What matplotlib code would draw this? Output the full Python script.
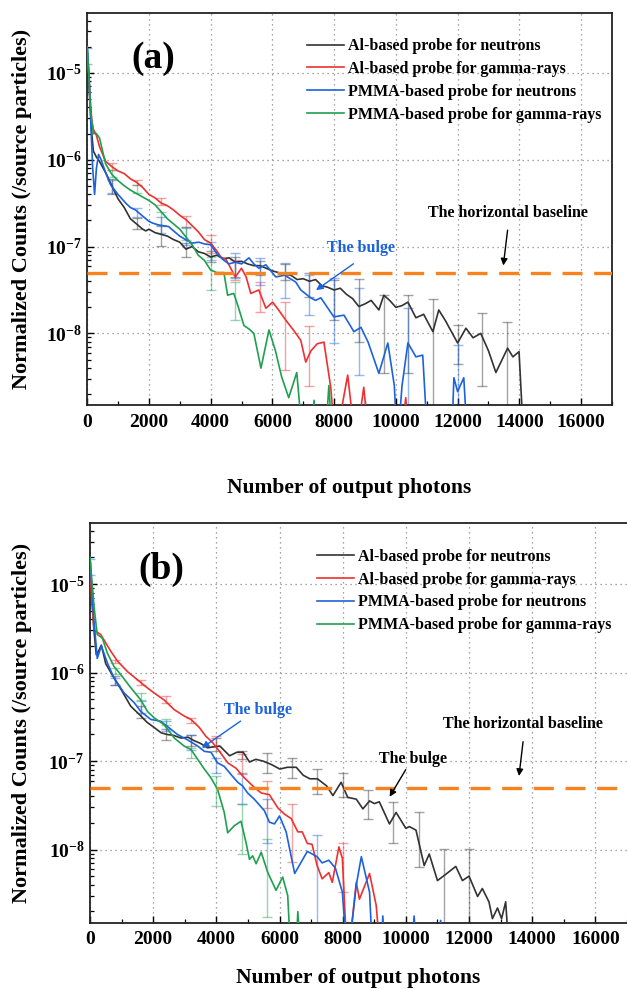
import numpy as np
import matplotlib
matplotlib.use('Agg')
import matplotlib.pyplot as plt
from matplotlib.ticker import MultipleLocator, LogLocator, NullFormatter, FixedLocator

plt.rcParams['font.family'] = ['Liberation Serif', 'DejaVu Serif']
plt.rcParams['font.weight'] = 'bold'
plt.rcParams['mathtext.fontset'] = 'custom'
plt.rcParams['mathtext.rm'] = 'Liberation Serif:bold'
plt.rcParams['mathtext.bf'] = 'Liberation Serif:bold'
plt.rcParams['mathtext.default'] = 'bf'

labels = ['Al-based probe for neutrons', 'Al-based probe for gamma-rays',
          'PMMA-based probe for neutrons', 'PMMA-based probe for gamma-rays']
colors = ['#333333', '#ee3030', '#1c62dc', '#1fa050']

# ---------------- panel (a): curves, log10 of counts ----------------
a_al_n_x = [0, 50, 100, 150, 200, 300, 400, 600, 800, 1000, 1200, 1400, 1600, 1800, 1900, 2000, 2200, 2400,
            2600, 2800, 3000, 3200, 3400, 3600, 3800, 4000, 4200, 4400, 4600, 4800, 5000, 5200, 5400, 5600,
            5800, 6000, 6200, 6400, 6600, 6800, 7000, 7200, 7400, 7600, 7800, 8000, 8200, 8400, 8600, 8800,
            9000, 9200, 9450, 9610, 9800, 10000, 10200, 10390, 10650, 10900, 11200, 11390, 11600, 12000,
            12270, 12500, 12750, 13000, 13240, 13620, 13790, 13990, 14150]
a_al_n_log = [-4.7, -5.1, -5.4, -5.7, -5.9, -5.97, -6.02, -6.15, -6.3, -6.45, -6.55, -6.68, -6.74, -6.8, -6.82,
              -6.8, -6.84, -6.86, -6.88, -6.92, -6.95, -7.03, -7.0, -7.06, -7.08, -7.12, -7.1, -7.14, -7.13,
              -7.18, -7.17, -7.2, -7.22, -7.22, -7.25, -7.28, -7.3, -7.32, -7.33, -7.38, -7.37, -7.4, -7.38,
              -7.45, -7.47, -7.5, -7.48, -7.55, -7.6, -7.69, -7.66, -7.62, -7.73, -7.56, -7.62, -7.7, -7.68,
              -7.64, -7.82, -7.78, -7.98, -7.73, -7.85, -8.11, -7.94, -8.05, -8.0, -8.2, -8.45, -8.17, -8.27,
              -8.21, -9.3]

a_al_g_x = [0, 50, 100, 150, 200, 300, 400, 600, 800, 1000, 1200, 1400, 1600, 1800, 2000, 2200, 2400, 2600,
            2800, 3000, 3200, 3400, 3600, 3800, 4000, 4200, 4330, 4500, 4650, 4800, 5000, 5150, 5300, 5560,
            5790, 6010, 6200, 6440, 6700, 6920, 7080, 7250, 7450, 7670, 7890, 8050, 8250, 8440, 8700, 8960,
            9150, 10150, 10320, 10450]
a_al_g_log = [-4.85, -5.0, -5.3, -5.55, -5.65, -5.72, -5.85, -6.02, -6.08, -6.13, -6.16, -6.22, -6.26, -6.32,
              -6.4, -6.44, -6.5, -6.53, -6.58, -6.64, -6.69, -6.76, -6.83, -6.92, -6.96, -7.05, -7.12, -7.15,
              -7.25, -7.35, -7.25, -7.35, -7.54, -7.5, -7.71, -7.64, -7.73, -7.85, -7.97, -8.08, -8.33, -8.2,
              -8.12, -8.1, -8.62, -9.3, -8.85, -8.48, -9.3, -8.62, -9.3, -9.3, -8.74, -9.3]

a_pm_n_x = [0, 60, 120, 180, 240, 300, 370, 450, 600, 760, 1000, 1250, 1400, 1570, 1800, 2000, 2120, 2300,
            2450, 2640, 2800, 3000, 3190, 3400, 3620, 3800, 4000, 4200, 4400, 4590, 4800, 5000, 5240, 5400,
            5560, 5790, 6110, 6400, 6760, 6920, 7240, 7400, 7570, 7990, 8320, 8640, 8870, 9100, 9450, 9740,
            9950, 10050, 10200, 10390, 10650, 10870, 11040, 11800, 11880, 12000, 12200, 12330]
a_pm_n_log = [-4.7, -5.0, -5.6, -6.1, -6.4, -6.1, -5.94, -6.0, -6.15, -6.29, -6.4, -6.5, -6.55, -6.58, -6.65,
              -6.71, -6.73, -6.75, -6.76, -6.77, -6.82, -6.88, -6.92, -6.96, -6.95, -6.97, -6.98, -7.08,
              -7.15, -7.2, -7.18, -7.2, -7.13, -7.2, -7.25, -7.21, -7.35, -7.33, -7.41, -7.5, -7.59, -7.62,
              -7.59, -7.81, -7.79, -7.98, -7.93, -8.1, -8.46, -8.11, -8.6, -9.3, -8.6, -8.11, -8.27, -8.25,
              -9.3, -9.3, -8.51, -8.67, -8.51, -9.3]

a_pm_g_x = [0, 50, 100, 200, 300, 400, 600, 800, 1000, 1200, 1400, 1600, 1800, 2000, 2200, 2400, 2600, 2800,
            3000, 3200, 3400, 3600, 3800, 4000, 4200, 4430, 4550, 4750, 4900, 5080, 5250, 5400, 5630, 5890,
            6100, 6300, 6530, 6790, 7000, 7250, 7350, 7450, 7700, 7830, 7950]
a_pm_g_log = [-4.7, -5.0, -5.4, -5.7, -5.7, -5.75, -6.05, -6.17, -6.24, -6.3, -6.35, -6.39, -6.43, -6.47,
              -6.52, -6.6, -6.68, -6.74, -6.8, -6.89, -6.98, -7.1, -7.16, -7.27, -7.3, -7.3, -7.56, -7.54,
              -7.7, -7.91, -7.95, -8.0, -8.4, -7.96, -8.2, -8.5, -8.74, -8.45, -9.3, -9.3, -8.77, -9.3, -9.3,
              -8.6, -9.3]

# panel (a): error bars (x, low log10, high log10)
a_al_n_ex = [800, 1600, 2400, 3200, 4000, 4800, 5600, 6400, 7200, 8000, 8800, 9600, 10400, 11200, 12000, 12800, 13600]
a_al_n_lo = [-6.4, -6.8, -6.99, -7.12, -7.18, -7.35, -7.33, -7.38, -7.58, -7.85, -8.1, -8.46, -8.45, -9.5, -8.35, -8.6, -9.5]
a_al_n_hi = [-6.22, -6.67, -6.76, -6.96, -7.05, -7.12, -7.17, -7.2, -7.3, -7.38, -7.37, -7.56, -7.56, -7.6, -7.9, -7.77, -7.87]

a_al_g_ex = [800, 1600, 2400, 3200, 4000, 4800, 5600, 6400, 7200]
a_al_g_lo = [-6.12, -6.29, -6.52, -6.77, -7.07, -7.39, -7.75, -8.42, -8.6]
a_al_g_hi = [-6.04, -6.23, -6.44, -6.65, -6.87, -7.16, -7.41, -7.64, -7.92]

a_pm_n_ex = [0, 800, 1600, 2400, 3200, 4000, 4800, 5600, 6400, 7200, 8000, 8800, 10400, 12000]
a_pm_n_lo = [-4.9, -6.38, -6.66, -6.84, -6.98, -7.15, -7.36, -7.44, -7.59, -7.79, -8.11, -8.48, -9.5, -9.5]
a_pm_n_hi = [-4.72, -6.23, -6.56, -6.66, -6.77, -6.95, -7.07, -7.13, -7.19, -7.33, -7.36, -7.48, -7.71, -8.13]

a_pm_g_ex = [800, 1600, 2400, 3200, 4000, 4800]
a_pm_g_lo = [-6.2, -6.38, -6.75, -6.92, -7.5, -7.85]
a_pm_g_hi = [-6.12, -6.29, -6.6, -6.79, -7.12, -7.41]

# ---------------- panel (b): curves, log10 of counts ----------------
b_al_n_x = [0, 60, 120, 200, 280, 360, 500, 760, 1000, 1290, 1610, 1800, 2030, 2250, 2450, 2650, 2880, 3100,
            3300, 3500, 3720, 3900, 4110, 4420, 4650, 4850, 5050, 5250, 5480, 5750, 6010, 6250, 6530, 6750,
            6960, 7200, 7490, 7690, 7950, 8160, 8430, 8640, 8850, 9000, 9160, 9480, 9690, 10000, 10110, 10320,
            10580, 10740, 11000, 11260, 11580, 11790, 12000, 12270, 12420, 12630, 12740, 12900, 13030, 13160,
            13290]
b_al_n_log = [-4.7, -5.1, -5.5, -5.8, -5.75, -5.69, -5.9, -6.06, -6.2, -6.38, -6.49, -6.56, -6.62, -6.68, -6.7,
              -6.71, -6.74, -6.73, -6.77, -6.8, -6.85, -6.84, -6.83, -6.94, -6.9, -6.9, -7.01, -6.98, -7.0,
              -7.04, -7.09, -7.07, -7.07, -7.16, -7.2, -7.2, -7.28, -7.39, -7.24, -7.41, -7.43, -7.54, -7.45,
              -7.48, -7.46, -7.71, -7.58, -7.76, -7.74, -7.78, -8.18, -8.05, -8.35, -8.28, -8.19, -8.35, -8.3,
              -8.53, -8.44, -8.59, -8.78, -8.66, -8.78, -8.59, -9.3]

b_al_g_x = [0, 60, 130, 340, 660, 870, 1190, 1500, 1770, 2030, 2350, 2670, 2980, 3200, 3460, 3670, 3880, 4100,
            4360, 4620, 4890, 5210, 5420, 5680, 5950, 6160, 6370, 6580, 6720, 6880, 7030, 7190, 7350, 7560,
            7670, 7880, 7990, 8150, 8430, 8530, 8850, 9060, 9220]
b_al_g_log = [-4.8, -5.2, -5.52, -5.57, -5.76, -5.87, -5.99, -6.08, -6.16, -6.23, -6.31, -6.42, -6.49, -6.53,
              -6.62, -6.72, -6.79, -6.89, -7.02, -7.08, -7.19, -7.3, -7.36, -7.38, -7.53, -7.6, -7.65, -7.8,
              -7.8, -7.93, -7.94, -8.18, -8.33, -8.26, -8.37, -7.97, -8.1, -9.3, -8.37, -8.56, -8.27, -8.63,
              -9.3]

b_pm_n_x = [0, 100, 230, 360, 550, 760, 1080, 1400, 1610, 1930, 2240, 2560, 2770, 3090, 3410, 3620, 3830, 4040,
            4250, 4460, 4680, 4830, 4990, 5200, 5520, 5680, 5840, 6000, 6210, 6480, 6880, 7190, 7350, 7560,
            7770, 7990, 8150, 8430, 8590, 8850, 8960, 9200, 9270, 9350, 10150, 10260, 10370, 11000, 11100,
            11200]
b_pm_n_log = [-4.7, -5.3, -5.84, -5.7, -5.89, -6.06, -6.23, -6.34, -6.44, -6.53, -6.55, -6.64, -6.7, -6.76,
              -6.83, -6.89, -6.9, -7.02, -7.06, -7.15, -7.24, -7.28, -7.36, -7.43, -7.56, -7.69, -7.71, -7.62,
              -7.8, -8.27, -8.02, -8.08, -8.15, -8.12, -8.21, -8.48, -9.3, -8.4, -8.08, -8.48, -9.3, -9.3,
              -8.75, -9.3, -9.3, -8.75, -9.3, -9.3, -8.8, -9.3]

b_pm_g_x = [0, 130, 230, 390, 550, 760, 970, 1290, 1610, 1820, 2030, 2350, 2670, 2980, 3200, 3410, 3620, 3830,
            4040, 4250, 4360, 4570, 4780, 4940, 5050, 5150, 5260, 5420, 5630, 5890, 6100, 6260, 6370, 6500,
            6580, 6680]
b_pm_g_log = [-4.7, -5.26, -5.57, -5.61, -5.78, -5.93, -6.02, -6.17, -6.31, -6.44, -6.51, -6.59, -6.74, -6.83,
              -6.87, -6.98, -7.09, -7.19, -7.32, -7.58, -7.81, -7.73, -7.68, -7.92, -8.11, -8.07, -8.16, -8.03,
              -8.26, -8.46, -8.31, -8.52, -9.3, -9.3, -8.7, -9.3]

# panel (b): error bars
b_al_n_ex = [800, 1600, 2400, 3200, 4000, 4800, 5600, 6400, 7200, 8000, 8800, 9600, 10400, 11200, 12000]
b_al_n_lo = [-6.14, -6.51, -6.76, -6.83, -6.89, -6.98, -7.13, -7.19, -7.37, -7.41, -7.65, -7.93, -8.2, -9.5, -9.5]
b_al_n_hi = [-6.04, -6.38, -6.64, -6.7, -6.74, -6.89, -6.91, -6.96, -7.09, -7.14, -7.33, -7.46, -7.58, -7.99, -7.99]

b_al_g_ex = [800, 1600, 2400, 3200, 4000, 4800, 5600, 6400, 8000]
b_al_g_lo = [-5.89, -6.14, -6.34, -6.57, -6.83, -7.15, -7.53, -8.14, -8.48]
b_al_g_hi = [-5.86, -6.08, -6.27, -6.51, -6.72, -6.92, -7.22, -7.49, -7.93]

b_pm_n_ex = [0, 800, 1600, 2400, 3200, 4000, 4800, 5600, 7200]
b_pm_n_lo = [-4.9, -6.14, -6.46, -6.66, -6.87, -7.13, -7.49, -7.92, -9.5]
b_pm_n_hi = [-4.72, -6.06, -6.32, -6.55, -6.7, -6.96, -7.13, -7.43, -7.83]

b_pm_g_ex = [800, 1600, 2400, 3200, 4000, 4800, 5600]
b_pm_g_lo = [-6.02, -6.31, -6.59, -6.96, -7.51, -8.05, -8.76]
b_pm_g_hi = [-5.95, -6.23, -6.53, -6.85, -7.17, -7.49, -7.88]

baseline = 5e-8

panels = [
    dict(pos=[0.139, 0.590, 0.837, 0.397], tag='(a)', tagxy=(2150, 1.45e-5),
         curves=[(a_al_n_x, a_al_n_log), (a_al_g_x, a_al_g_log), (a_pm_n_x, a_pm_n_log), (a_pm_g_x, a_pm_g_log)],
         errs=[(a_al_n_ex, a_al_n_lo, a_al_n_hi), (a_al_g_ex, a_al_g_lo, a_al_g_hi),
               (a_pm_n_ex, a_pm_n_lo, a_pm_n_hi), (a_pm_g_ex, a_pm_g_lo, a_pm_g_hi)],
         notes=[('The bulge', colors[2], (8870, 10**-7.02), (8700, 10**-7.18), (7340, 10**-7.52)),
                ('The horizontal baseline', 'black', (13630, 10**-6.61), (13630, 10**-6.78), (13470, 10**-7.25))],
         leg=(0.419, 0.935), xlab_y=-0.209, ylab_x=-0.124, right=True),
    dict(pos=[0.1435, 0.0667, 0.8565, 0.4045], tag='(b)', tagxy=(2250, 1.45e-5),
         curves=[(b_al_n_x, b_al_n_log), (b_al_g_x, b_al_g_log), (b_pm_n_x, b_pm_n_log), (b_pm_g_x, b_pm_g_log)],
         errs=[(b_al_n_ex, b_al_n_lo, b_al_n_hi), (b_al_g_ex, b_al_g_lo, b_al_g_hi),
               (b_pm_n_ex, b_pm_n_lo, b_pm_n_hi), (b_pm_g_ex, b_pm_g_lo, b_pm_g_hi)],
         notes=[('The bulge', colors[2], (5310, 10**-6.42), (4840, 10**-6.53), (3470, 10**-6.87)),
                ('The bulge', 'black', (10240, 10**-6.98), (10040, 10**-7.07), (9440, 10**-7.43)),
                ('The horizontal baseline', 'black', (13690, 10**-6.58), (13720, 10**-6.75), (13570, 10**-7.2))],
         leg=(0.423, 0.935), xlab_y=-0.1375, ylab_x=-0.127, right=False),
]

fig = plt.figure(figsize=(6.27, 9.89), dpi=100)

for p in panels:
    ax = fig.add_axes(p['pos'])
    for (x, lg), (ex, lo, hi), c, lab in zip(p['curves'], p['errs'], colors, labels):
        y = 10 ** np.array(lg)
        ax.plot(x, y, color=c, lw=1.2, label=lab, zorder=3)
        lo_v = 10 ** np.array(lo)
        hi_v = 10 ** np.array(hi)
        mid = np.sqrt(lo_v * hi_v)
        ax.errorbar(ex, mid, yerr=[mid - lo_v, hi_v - mid], fmt='none', ecolor=c, alpha=0.45,
                    elinewidth=1.0, capsize=3.5, capthick=1.0, zorder=2)
    ax.axhline(baseline, color='#f7821e', lw=2.4, dashes=(6, 3.5), zorder=4)

    ax.set_yscale('log')
    ax.set_xlim(0, 17000)
    ax.set_ylim(1.48e-9, 4.9e-5)
    ax.xaxis.set_major_locator(MultipleLocator(2000))
    ax.xaxis.set_minor_locator(MultipleLocator(1000))
    ax.yaxis.set_major_locator(FixedLocator([1e-8, 1e-7, 1e-6, 1e-5]))
    ax.yaxis.set_minor_locator(LogLocator(base=10, subs=np.arange(2, 10)))
    ax.yaxis.set_minor_formatter(NullFormatter())
    ax.tick_params(which='major', direction='in', length=5, width=1.0, labelsize=14, pad=6)
    ax.tick_params(which='minor', direction='in', length=3, width=0.9)
    ax.tick_params(axis='y', which='major', pad=4)
    ax.grid(which='major', color='#888888', linestyle=(0, (1, 3)), lw=0.9)
    for s in ax.spines.values():
        s.set_linewidth(1.3)
        s.set_color('#222222')
    if not p['right']:
        ax.spines['right'].set_visible(False)

    ax.text(*p['tagxy'], p['tag'], fontsize=27, fontweight='bold', ha='center', va='center')

    for txt, c, txy, a0, a1 in p['notes']:
        ax.text(*txy, txt, color=c, fontsize=11.5, fontweight='bold', ha='center', va='center', zorder=6)
        ax.annotate('', xy=a1, xytext=a0,
                    arrowprops=dict(arrowstyle='-|>', color=c, lw=1.0, mutation_scale=10), zorder=6)

    leg = ax.legend(loc='upper left', bbox_to_anchor=p['leg'], frameon=False, fontsize=11.5,
                    handlelength=2.3, handletextpad=0.25, labelspacing=0.42, borderpad=0, borderaxespad=0)
    for t in leg.get_texts():
        t.set_fontweight('bold')

    ax.set_xlabel('Number of output photons', fontsize=15.5, fontweight='bold')
    ax.xaxis.label.set_va('center')
    ax.xaxis.set_label_coords(0.5, p['xlab_y'])
    ax.set_ylabel('Normalized Counts (/source particles)', fontsize=16, fontweight='bold')
    ax.yaxis.label.set_va('center')
    ax.yaxis.set_label_coords(p['ylab_x'], 0.5)

fig.savefig('out.png', dpi=100)
